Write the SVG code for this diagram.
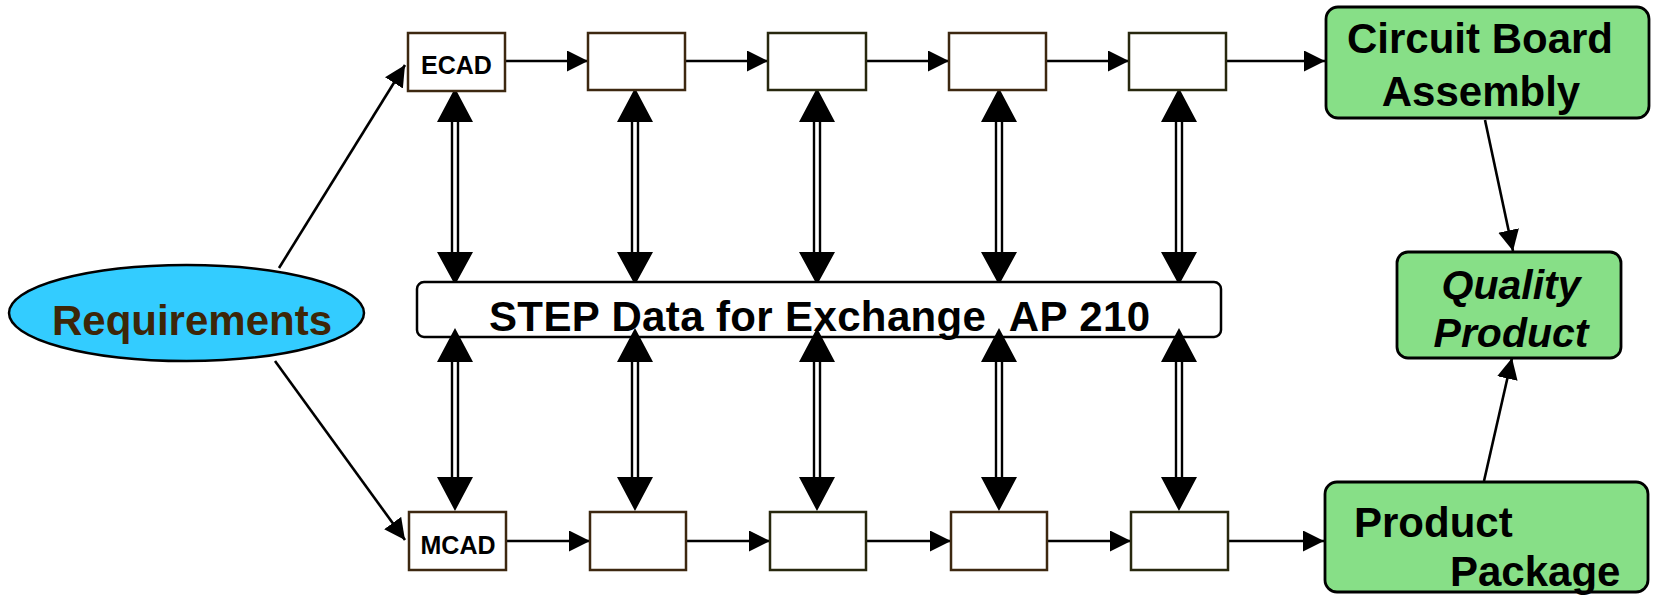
<svg xmlns="http://www.w3.org/2000/svg" width="1654" height="595" viewBox="0 0 1654 595">
  <style>
    .bg { fill: #ffffff; }
    .step { fill: #ffffff; stroke: #000000; stroke-width: 2.5; }
    .tool { fill: #ffffff; stroke: #3d2810; stroke-width: 2.5; }
    .tool2 { fill: #ffffff; stroke: #28280e; stroke-width: 2.5; }
    .result { fill: #87df87; stroke: #000000; stroke-width: 2.8; }
    .req { fill: #33ccff; stroke: #000000; stroke-width: 2.5; }
    .flow { fill: none; stroke: #000000; stroke-width: 2.6; }
    .rail { fill: none; stroke: #000000; stroke-width: 2.4; }
    .head { fill: #000000; }
    text { font-family: "Liberation Sans", Arial, sans-serif; font-weight: bold; }
    .small { font-size: 25px; fill: #000000; }
    .big { font-size: 42px; fill: #000000; }
    .it { font-style: italic; font-size: 41px; }
    .reqtxt { font-size: 42px; fill: #3d2608; }
  </style>
  <defs>
    <marker id="arrow" markerUnits="userSpaceOnUse" markerWidth="22" markerHeight="22" refX="21" refY="10.5" orient="auto">
      <path d="M0,0 L21,10.5 L0,21 z" fill="#000000"/>
    </marker>
  </defs>

  <rect class="bg" x="0" y="0" width="1654" height="595"/>

  <!-- connectors -->
  <g id="connectors">
    <!-- requirements fan-out -->
    <line class="flow" x1="279" y1="268" x2="405" y2="65" marker-end="url(#arrow)"/>
    <line class="flow" x1="275" y1="361" x2="405" y2="540" marker-end="url(#arrow)"/>

    <!-- ECAD chain -->
    <line class="flow" x1="505" y1="61" x2="588" y2="61" marker-end="url(#arrow)"/>
    <line class="flow" x1="685" y1="61" x2="768" y2="61" marker-end="url(#arrow)"/>
    <line class="flow" x1="866" y1="61" x2="949" y2="61" marker-end="url(#arrow)"/>
    <line class="flow" x1="1046" y1="61" x2="1129" y2="61" marker-end="url(#arrow)"/>
    <line class="flow" x1="1226" y1="61" x2="1325" y2="61" marker-end="url(#arrow)"/>

    <!-- MCAD chain -->
    <line class="flow" x1="506" y1="541" x2="590" y2="541" marker-end="url(#arrow)"/>
    <line class="flow" x1="686" y1="541" x2="770" y2="541" marker-end="url(#arrow)"/>
    <line class="flow" x1="866" y1="541" x2="951" y2="541" marker-end="url(#arrow)"/>
    <line class="flow" x1="1047" y1="541" x2="1131" y2="541" marker-end="url(#arrow)"/>
    <line class="flow" x1="1228" y1="541" x2="1324" y2="541" marker-end="url(#arrow)"/>

    <!-- results into quality product -->
    <line class="flow" x1="1485" y1="120" x2="1513" y2="251" marker-end="url(#arrow)"/>
    <line class="flow" x1="1484" y1="481" x2="1512" y2="358" marker-end="url(#arrow)"/>

    <!-- double-shafted exchange arrows, upper row -->
    <g id="exchange-top">
      <path class="rail" d="M452,122 V252 M458,122 V252"/>
      <path class="head" d="M455,88 L473,122 L437,122 z M455,285 L473,252 L437,252 z"/>
      <path class="rail" d="M632,122 V252 M638,122 V252"/>
      <path class="head" d="M635,88 L653,122 L617,122 z M635,285 L653,252 L617,252 z"/>
      <path class="rail" d="M814,122 V252 M820,122 V252"/>
      <path class="head" d="M817,88 L835,122 L799,122 z M817,285 L835,252 L799,252 z"/>
      <path class="rail" d="M996,122 V252 M1002,122 V252"/>
      <path class="head" d="M999,88 L1017,122 L981,122 z M999,285 L1017,252 L981,252 z"/>
      <path class="rail" d="M1176,122 V252 M1182,122 V252"/>
      <path class="head" d="M1179,88 L1197,122 L1161,122 z M1179,285 L1197,252 L1161,252 z"/>
    </g>
  </g>

  <!-- shared exchange bar -->
  <g id="step">
    <rect class="step" x="417" y="282" width="804" height="55" rx="7"/>
    <text class="big" x="489" y="331" xml:space="preserve" textLength="661" lengthAdjust="spacing">STEP Data for Exchange  AP 210</text>
  </g>

  <!-- double-shafted exchange arrows, lower row (drawn over the bar) -->
  <g id="exchange-bottom">
    <path class="rail" d="M452,362 V477 M458,362 V477"/>
    <path class="head" d="M455,328 L473,362 L437,362 z M455,511 L473,477 L437,477 z"/>
    <path class="rail" d="M632,362 V477 M638,362 V477"/>
    <path class="head" d="M635,328 L653,362 L617,362 z M635,511 L653,477 L617,477 z"/>
    <path class="rail" d="M814,362 V477 M820,362 V477"/>
    <path class="head" d="M817,328 L835,362 L799,362 z M817,511 L835,477 L799,477 z"/>
    <path class="rail" d="M996,362 V477 M1002,362 V477"/>
    <path class="head" d="M999,328 L1017,362 L981,362 z M999,511 L1017,477 L981,477 z"/>
    <path class="rail" d="M1176,362 V477 M1182,362 V477"/>
    <path class="head" d="M1179,328 L1197,362 L1161,362 z M1179,511 L1197,477 L1161,477 z"/>
  </g>

  <!-- requirements -->
  <g id="requirements">
    <ellipse class="req" cx="186.5" cy="313" rx="177.5" ry="48"/>
    <text class="reqtxt" x="192" y="335" text-anchor="middle">Requirements</text>
  </g>

  <!-- ECAD row -->
  <g id="ecad">
    <rect class="tool" x="408" y="33" width="97" height="58"/>
    <text class="small" x="456.5" y="74" text-anchor="middle">ECAD</text>
  </g>
  <g id="ecad-2"><rect class="tool" x="588" y="33" width="97" height="57"/></g>
  <g id="ecad-3"><rect class="tool2" x="768" y="33" width="98" height="57"/></g>
  <g id="ecad-4"><rect class="tool" x="949" y="33" width="97" height="57"/></g>
  <g id="ecad-5"><rect class="tool2" x="1129" y="33" width="97" height="57"/></g>

  <!-- MCAD row -->
  <g id="mcad">
    <rect class="tool" x="409" y="512" width="97" height="58"/>
    <text class="small" x="458" y="554" text-anchor="middle">MCAD</text>
  </g>
  <g id="mcad-2"><rect class="tool" x="590" y="512" width="96" height="58"/></g>
  <g id="mcad-3"><rect class="tool2" x="770" y="512" width="96" height="58"/></g>
  <g id="mcad-4"><rect class="tool" x="951" y="512" width="96" height="58"/></g>
  <g id="mcad-5"><rect class="tool2" x="1131" y="512" width="97" height="58"/></g>

  <!-- outcomes -->
  <g id="circuit-board">
    <rect class="result" x="1326" y="7" width="323" height="111" rx="12"/>
    <text class="big" x="1480" y="53" text-anchor="middle">Circuit Board</text>
    <text class="big" x="1481" y="106" text-anchor="middle">Assembly</text>
  </g>
  <g id="quality-product">
    <rect class="result" x="1397" y="252" width="224" height="106" rx="11"/>
    <text class="big it" x="1511" y="299" text-anchor="middle">Quality</text>
    <text class="big it" x="1511" y="347" text-anchor="middle">Product</text>
  </g>
  <g id="product-package">
    <rect class="result" x="1325" y="482" width="323" height="110" rx="12"/>
    <text class="big" x="1354" y="537">Product</text>
    <text class="big" x="1450" y="586">Package</text>
  </g>
</svg>
